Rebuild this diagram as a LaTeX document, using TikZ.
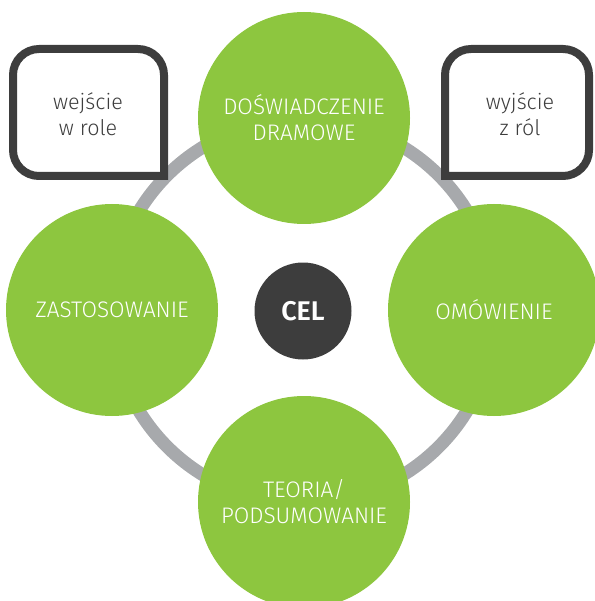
\documentclass[tikz,border=0pt]{standalone}
\usepackage{fontspec}
\setmainfont{Fira Sans}[UprightFont=* Light,BoldFont=* SemiBold]
\definecolor{leafgreen}{HTML}{8DC63F}
\definecolor{ringgrey}{HTML}{A7A9AC}
\definecolor{darkgrey}{HTML}{3D3D3D}
\tikzset{
  stage/.style={circle,fill=leafgreen,minimum size=212pt,inner sep=0pt,align=center,
    text=white,font=\fontsize{22.5}{26}\selectfont},
  goal/.style={circle,fill=darkgrey,minimum size=97pt,inner sep=0pt,text=white,
    font=\fontsize{27}{30}\selectfont\bfseries},
  roleframe/.style={draw=darkgrey,line width=8pt,fill=white,rounded corners=26pt,line cap=rect},
  rolelabel/.style={align=center,text=darkgrey,font=\fontsize{21.5}{26}\selectfont},
  ring/.style={draw=ringgrey,line width=13pt}
}
\begin{document}
\begin{tikzpicture}[x=1pt,y=-1pt]
    \useasboundingbox (0,0) rectangle (594,601);
    \coordinate (middle) at (303,311);
    % the grey cycle behind everything
    \draw [ring] (middle) circle [radius=192pt];
    % entering and leaving the role
    \draw [roleframe] (164,176) -- (164,49) -- (13,49) -- (13,176) -- (164,176);
    \node [rolelabel] (wejscie) at (88,114) {wejście\\w role};
    \draw [roleframe] (445,176) -- (445,49) -- (589,49) -- (589,176) -- (445,176);
    \node [rolelabel] (wyjscie) at (520,114) {wyjście\\z ról};
    % the four stages
    \node [stage] (doswiadczenie) at (304,118) {DOŚWIADCZENIE\\DRAMOWE};
    \node [stage] (omowienie) at (494,310) {OMÓWIENIE};
    \node [stage] (teoria) at (304,502) {TEORIA/\\PODSUMOWANIE};
    \node [stage] (zastosowanie) at (112,310) {ZASTOSOWANIE};
    \node [goal] (cel) at (middle) {CEL};
\end{tikzpicture}
\end{document}
